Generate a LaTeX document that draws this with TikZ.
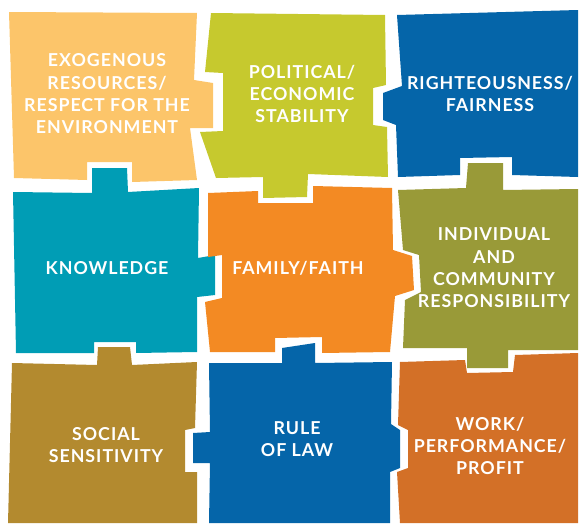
\documentclass[tikz,border=0pt]{standalone}
\usepackage{fontspec}
\setmainfont{Lato}[LetterSpace=5.5]
\usetikzlibrary{positioning}

\definecolor{sand}{HTML}{FCC56A}
\definecolor{lime}{HTML}{C6C92E}
\definecolor{royal}{HTML}{0565A9}
\definecolor{teal}{HTML}{009DB5}
\definecolor{tangerine}{HTML}{F38A23}
\definecolor{olive}{HTML}{999A38}
\definecolor{bronze}{HTML}{B38A2F}
\definecolor{rust}{HTML}{D37027}

\begin{document}
\begin{tikzpicture}[
  x=1pt, y=-1pt,
  piece/.style = {draw=none},
  lbl/.style = {text=white, align=center, inner sep=0pt,
                font=\bfseries\fontsize{17.8}{22.3}\selectfont}
]
\useasboundingbox (0,0) rectangle (579,525);

% top row
\fill[piece, sand] (9,12) -- (197,13) -- (194,80) -- (213,83) -- (213,128)
  -- (190,128) -- (197,180) -- (132,182) -- (132,162) -- (87,162) -- (87,180)
  -- (14,178) -- cycle;
\fill[piece, lime] (211,13) -- (385,15) -- (386,85) -- (373,88) -- (373,125)
  -- (387,127) -- (388,177) -- (308,174) -- (307,197) -- (263,198) -- (263,177)
  -- (216,178) -- (200,132) -- (223,131) -- (223,73) -- (205,72) -- cycle;
\fill[piece, royal] (397,15) -- (578,10) -- (578,177) -- (512,175) -- (512,157)
  -- (460,158) -- (460,175) -- (398,177) -- (396,125) -- (383,120) -- (383,93)
  -- (402,86) -- cycle;

% middle row
\fill[piece, teal] (13,192) -- (92,193) -- (92,168) -- (127,168) -- (128,192)
  -- (199,188) -- (198,258) -- (215,255) -- (215,295) -- (197,297) -- (197,352)
  -- (136,353) -- (136,342) -- (94,342) -- (94,353) -- (16,353) -- cycle;
\fill[piece, tangerine] (208,193) -- (258,191) -- (258,203) -- (313,203)
  -- (313,186) -- (392,188) -- (393,250) -- (412,256) -- (414,290)
  -- (395,296) -- (390,352) -- (322,353) -- (322,337) -- (275,338)
  -- (275,352) -- (210,352) -- (205,302) -- (222,298) -- (222,255)
  -- (208,257) -- cycle;
\fill[piece, olive] (398,190) -- (466,188) -- (468,163) -- (503,163)
  -- (503,190) -- (578,189) -- (578,350) -- (508,350) -- (508,368)
  -- (467,368) -- (467,348) -- (403,348) -- (405,300) -- (421,292)
  -- (419,255) -- (403,250) -- cycle;

% bottom row
\fill[piece, bronze] (12,363) -- (97,365) -- (98,347) -- (130,347)
  -- (132,365) -- (197,362) -- (195,428) -- (185,430) -- (185,472)
  -- (197,472) -- (197,523) -- (8,523) -- cycle;
\fill[piece, royal] (209,363) -- (282,363) -- (282,348) -- (315,343)
  -- (315,363) -- (392,362) -- (391,424) -- (400,430) -- (400,468)
  -- (390,472) -- (390,523) -- (209,523) -- (210,463) -- (193,463)
  -- (193,433) -- (210,432) -- cycle;
\fill[piece, rust] (400,362) -- (465,360) -- (467,373) -- (513,372)
  -- (515,355) -- (578,353) -- (578,523) -- (400,523) -- (397,472)
  -- (408,468) -- (408,430) -- (398,425) -- cycle;

% labels
\node[lbl] (exo) at (107,94) {EXOGENOUS\\RESOURCES/\\RESPECT FOR THE\\ENVIRONMENT};
\node[lbl] (pol) at (302,94) {POLITICAL/\\ECONOMIC\\STABILITY};
\node[lbl] (right) at (490,94) {RIGHTEOUSNESS/\\FAIRNESS};
\node[lbl] (know) at (107,268) {KNOWLEDGE};
\node[lbl] (fam) at (298,268) {FAMILY/FAITH};
\node[lbl] (indiv) at (494,268) {INDIVIDUAL\\AND\\COMMUNITY\\RESPONSIBILITY};
\node[lbl] (social) at (106,445) {SOCIAL\\SENSITIVITY};
\node[lbl] (rule) at (297,439) {RULE\\OF LAW};
\node[lbl] (work) at (490,446) {WORK/\\PERFORMANCE/\\PROFIT};

\end{tikzpicture}
\end{document}
